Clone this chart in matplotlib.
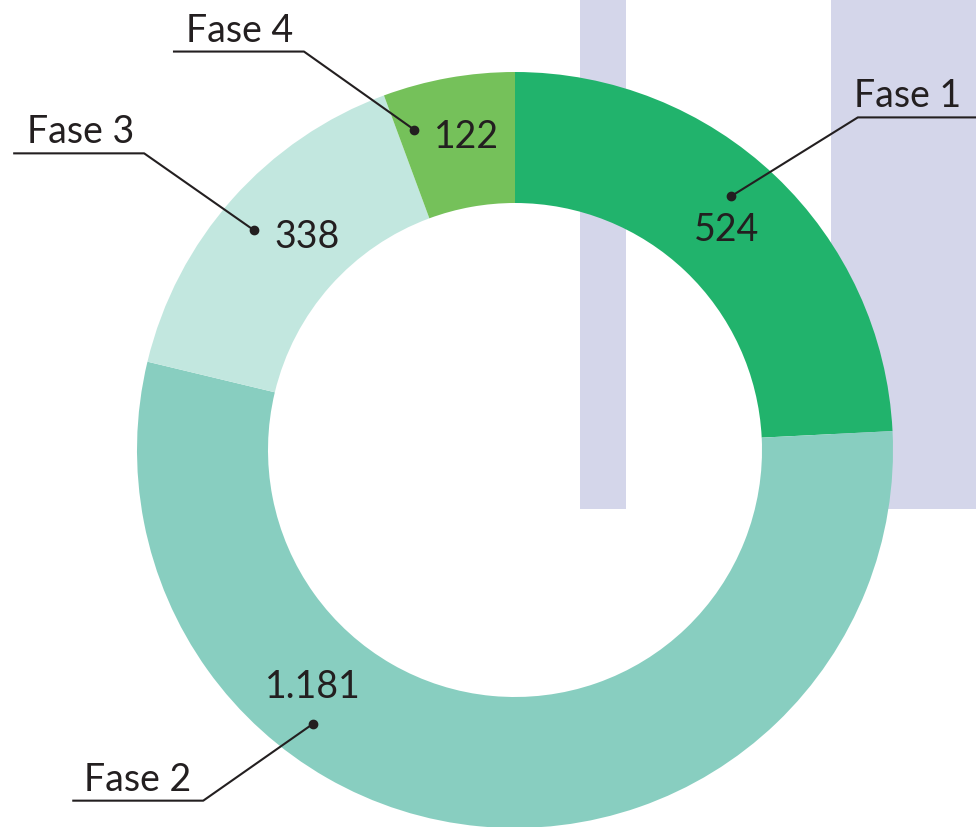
import matplotlib.pyplot as plt
import numpy as np
from matplotlib.patches import FancyBboxPatch, Rectangle

plt.rcParams["font.family"] = ["Lato", "DejaVu Sans"]

phases = ["Fase 1", "Fase 2", "Fase 3", "Fase 4"]
counts = [524, 1181, 338, 122]
count_labels = ["524", "1.181", "338", "122"]
colors = ["#21b36c", "#88cec0", "#c2e7df", "#75c15a"]

# layout in pixels (y measured from the top of the image)
W, H = 976, 828
center = (515, 451)
r_out, r_in = 378, 247
dot_angle = [49.6, 233.6, 139.9, 107.5]   # degrees, where the leader starts
dot_radius = [333, 340, 341, 336]
elbow_dx = [127, -110, -110, -110]
elbow_dy = [-79, 77, -77, -78]
name_dx = [50, -66, -64, -64]
value_off = [(-4, 33, "center"), (0, -38, "center"), (20, 6, "left"), (20, 6, "left")]

ink = "#231f20"

fig = plt.figure(figsize=(W / 100, H / 100), dpi=100)
ax = fig.add_axes([0, 0, 1, 1])


def Y(y):
    return H - y


# background decoration on the right
ax.add_patch(Rectangle((580, Y(510)), W - 580, 510, color="#d4d6ea", lw=0, zorder=0))
ax.add_patch(FancyBboxPatch((626, Y(640)), 205, 660, boxstyle="round,pad=0,rounding_size=18",
                            color="white", lw=0, zorder=0.5))

ax.pie(counts, colors=colors, startangle=90, counterclock=False, radius=r_out,
       center=(center[0], Y(center[1])), frame=True,
       wedgeprops=dict(width=r_out - r_in, linewidth=0, zorder=1))

for i, name in enumerate(phases):
    a = np.deg2rad(dot_angle[i])
    dx = center[0] + dot_radius[i] * np.cos(a)
    dy = center[1] - dot_radius[i] * np.sin(a)
    ex, ey = dx + elbow_dx[i], dy + elbow_dy[i]
    side = 1 if elbow_dx[i] > 0 else -1
    hx = ex + side * 131
    ax.plot([dx, ex, hx], [Y(dy), Y(ey), Y(ey)], color=ink, lw=1.5, zorder=3,
            solid_capstyle="butt", clip_on=False)
    ax.plot(dx, Y(dy), "o", color=ink, ms=6, zorder=4)
    ax.text(ex + name_dx[i], Y(ey - 11), name, ha="center", va="baseline",
            fontsize=27, color=ink, zorder=4)
    ox, oy, ha = value_off[i]
    ax.text(dx + ox, Y(dy + oy), count_labels[i], ha=ha, va="center",
            fontsize=27, color=ink, zorder=4)

ax.set_xlim(0, W)
ax.set_ylim(0, H)
ax.set_aspect("equal")
ax.axis("off")

fig.savefig("out.png", dpi=100, facecolor="white")
